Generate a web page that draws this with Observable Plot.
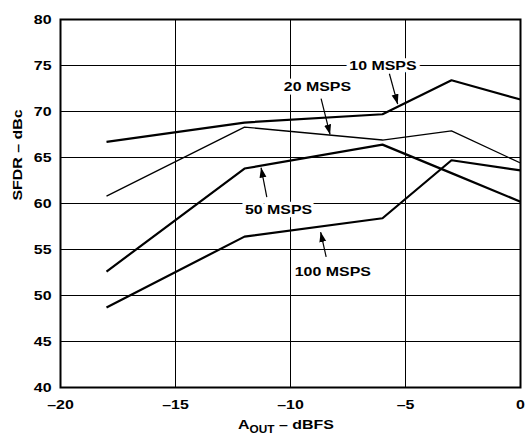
<!DOCTYPE html>
<html>
<head>
<meta charset="utf-8">
<script src="https://cdn.jsdelivr.net/npm/d3@7"></script>
<script src="https://cdn.jsdelivr.net/npm/@observablehq/plot@0.6"></script>
<style>
  html, body { margin: 0; padding: 0; background: white; }
</style>
</head>
<body>
<div id="chart"></div>
<script>
// ---- data ----
const aout = [-18, -12, -6, -3, 0];                 // A_OUT, dBFS
const sfdr10  = [66.7, 68.8, 69.7, 73.4, 71.3];     // 10 MSPS
const sfdr20  = [60.8, 68.3, 66.9, 67.9, 64.4];     // 20 MSPS
const sfdr50  = [52.6, 63.8, 66.4, 63.3, 60.2];     // 50 MSPS
const sfdr100 = [48.7, 56.4, 58.4, 64.7, 63.6];     // 100 MSPS
const seriesNames = ["10 MSPS", "20 MSPS", "50 MSPS", "100 MSPS"];
const seriesThick = [true, false, true, true];

const xTicks = [-20, -15, -10, -5, 0];
const yTicks = [40, 45, 50, 55, 60, 65, 70, 75, 80];

// annotation labels (data coordinates)
const labelX = [-5.98, -8.83, -10.52, -8.16];
const labelY = [75.0, 72.7, 59.35, 52.6];
// annotation arrows: tail -> tip (data coordinates)
const arrowX1 = [-5.70, -8.67, -11.03, -8.45];
const arrowY1 = [74.1, 71.4, 60.7, 54.2];
const arrowX2 = [-5.34, -8.28, -11.28, -8.69];
const arrowY2 = [70.8, 67.5, 63.9, 56.9];

// ---- build tables ----
const allSeries = [sfdr10, sfdr20, sfdr50, sfdr100];
const rows = allSeries.flatMap((vals, i) =>
  vals.map((v, j) => ({series: seriesNames[i], x: aout[j], y: v})));
const labels = seriesNames.map((s, i) => ({text: s, x: labelX[i], y: labelY[i]}));
const arrows = seriesNames.map((s, i) => ({x1: arrowX1[i], y1: arrowY1[i], x2: arrowX2[i], y2: arrowY2[i]}));

const dash = d => d < 0 ? "\u2013" + Math.abs(d) : String(d);

const lineMarks = seriesNames.map((s, i) =>
  Plot.line(rows.filter(r => r.series === s), {
    x: "x", y: "y", stroke: "black",
    strokeWidth: seriesThick[i] ? 2.2 : 1.3,
    strokeLinejoin: "miter", strokeLinecap: "butt"
  }));

const chart = Plot.plot({
  width: 525,
  height: 433,
  marginLeft: 60,
  marginRight: 5,
  marginTop: 19,
  marginBottom: 46,
  x: {domain: [-20, 0]},
  y: {domain: [40, 80]},
  style: {
    fontFamily: "'Liberation Sans', Arial, Helvetica, sans-serif",
    fontWeight: "bold",
    fontSize: "13.5px",
    color: "black",
    background: "white",
    overflow: "visible"
  },
  marks: [
    Plot.gridX(xTicks, {stroke: "black", strokeOpacity: 1, strokeWidth: 1}),
    Plot.gridY(yTicks, {stroke: "black", strokeOpacity: 1, strokeWidth: 1}),
    Plot.text(labels, {
      x: "x", y: "y", text: "text", fill: "black",
      stroke: "white", strokeWidth: 7, paintOrder: "stroke",
      fontWeight: "bold", fontSize: 13.5, className: "stretch"
    }),
    ...lineMarks,
    Plot.link(arrows, {
      x1: "x1", y1: "y1", x2: "x2", y2: "y2",
      stroke: "black", strokeWidth: 1.2, className: "ann-arrow"
    }),
    Plot.frame({stroke: "black", strokeWidth: 2}),
    Plot.axisX({ticks: xTicks, tickSize: 0, tickPadding: 12, tickFormat: dash, label: null, fontWeight: "bold"}),
    Plot.axisY({ticks: yTicks, tickSize: 0, tickPadding: 9, tickFormat: d => String(d), label: null, fontWeight: "bold"}),
    Plot.text(["SFDR \u2013 dBc"], {
      frameAnchor: "left", dx: -43, dy: -3, rotate: -90,
      fontWeight: "bold", fontSize: 13.5, fill: "black"
    })
  ]
});

document.getElementById("chart").append(chart);

const svg = d3.select(chart);

// x-axis title with subscript, centred under the frame
const xs = chart.scale("x");
const cx = (xs.apply(-20) + xs.apply(0)) / 2 - 4;
const xt = svg.append("text")
  .attr("x", cx).attr("y", 429)
  .attr("text-anchor", "middle")
  .attr("fill", "black")
  .attr("font-family", "'Liberation Sans', Arial, Helvetica, sans-serif")
  .attr("font-weight", "bold")
  .attr("font-size", 13.5);
xt.append("tspan").text("A");
xt.append("tspan").attr("font-size", 10).attr("dy", 3.5).text("OUT");
xt.append("tspan").attr("dy", -3.5).text(" \u2013 dBFS");

// filled arrowheads on annotation arrows
const defs = svg.append("defs");
defs.append("marker")
  .attr("id", "filled-arrow")
  .attr("viewBox", "-10 -4 10 8")
  .attr("markerWidth", 10).attr("markerHeight", 8)
  .attr("markerUnits", "userSpaceOnUse")
  .attr("orient", "auto")
  .append("path")
  .attr("d", "M-10,-3.5L0,0L-10,3.5Z")
  .attr("fill", "black");
svg.selectAll("g.ann-arrow path, .ann-arrow path").attr("marker-end", "url(#filled-arrow)");

// widen the Helvetica-style lettering as in the reference
const STRETCH = 1.18;
svg.selectAll("text").each(function() {
  const len = this.getComputedTextLength();
  if (len > 0) {
    this.setAttribute("textLength", (len * STRETCH).toFixed(2));
    this.setAttribute("lengthAdjust", "spacingAndGlyphs");
  }
});
</script>
</body>
</html>
